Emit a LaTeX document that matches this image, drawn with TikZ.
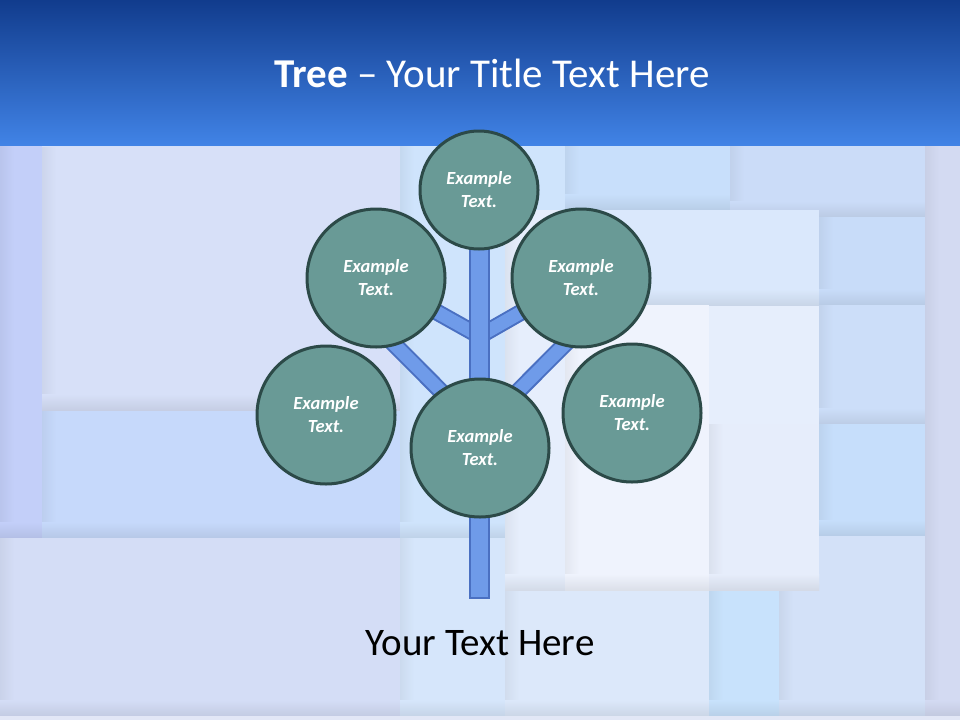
\documentclass[tikz,border=0pt]{standalone}
\usepackage{fontspec}
\setmainfont{Carlito}

\definecolor{headtop}{HTML}{113C8D}
\definecolor{headbot}{HTML}{4183E6}
\definecolor{leaf}{HTML}{699A96}
\definecolor{leafline}{HTML}{2C4A48}
\definecolor{wood}{HTML}{6F9BE9}
\definecolor{woodline}{HTML}{4A70C2}

% background panel: x1, y1, x2, y2, colour (HTML)
\newcommand{\bgpanel}[5]{%
  \definecolor{pc}{HTML}{#5}%
  \fill[pc] (#1,#2) rectangle (#3,#4);
  \shade[left color=pc!95!black, right color=pc] (#1,#2) rectangle (#1+14,#4);
  \shade[top color=pc, bottom color=pc!92!black] (#1,#4-16) rectangle (#3,#4);
}

\begin{document}
\begin{tikzpicture}[
    x = 1pt, y = -1pt, % pixel grid, y downwards
    branch/.style = {draw=woodline, line width=2pt, double=wood, double distance=13pt},
    trunk/.style = {draw=woodline, line width=2pt, fill=wood, minimum width=19pt, inner sep=0pt}
    ]

    \tikzset{leaf/.style={
    circle,
    draw = leafline,
    line width = 3pt,
    fill = leaf,
    text = white,
    align = center,
    inner sep = 0pt,
    font = \fontsize{18.5}{23}\selectfont\bfseries\itshape
    }}

    \useasboundingbox (0,0) rectangle (960,720);

    % background
    \fill[fill={rgb,255:red,211;green,223;blue,248}] (0,0) rectangle (960,720);
    \bgpanel{0}{145}{42}{538}{C3CFF9}
    \bgpanel{42}{405}{400}{538}{C6D9FB}
    \bgpanel{42}{147}{400}{410}{D7E0F8}
    \bgpanel{0}{538}{400}{716}{D4DDF6}
    \bgpanel{400}{145}{565}{538}{CFE4FC}
    \bgpanel{400}{538}{505}{716}{D6E6FB}
    \bgpanel{565}{145}{730}{210}{C8DFFB}
    \bgpanel{730}{145}{925}{217}{CBDCF8}
    \bgpanel{819}{217}{925}{305}{C8DCF9}
    \bgpanel{819}{305}{925}{424}{CCDEF9}
    \bgpanel{819}{424}{925}{536}{C6DEFB}
    \bgpanel{925}{145}{960}{716}{D3DAF2}
    \bgpanel{779}{536}{925}{716}{D3E1F8}
    \bgpanel{709}{590}{779}{716}{C8E2FC}
    \bgpanel{505}{590}{709}{716}{DCE8FA}
    \bgpanel{505}{210}{819}{590}{E6EEFC}
    \bgpanel{565}{210}{819}{305}{DAE8FC}
    \bgpanel{709}{424}{819}{590}{E6EDFB}
    \bgpanel{565}{305}{709}{590}{EFF3FD}
    \fill[fill={rgb,255:red,226;green,231;blue,246}] (0,716) rectangle (960,720);

    % title bar
    \shade[top color=headtop, bottom color=headbot] (0,0) rectangle (960,145);
    \node[text=white, font=\fontsize{41}{49}\selectfont, anchor=base] (title) at (492,87)
        {\textbf{Tree} – Your Title Text Here};

    % branches and trunk
    \coordinate (forkU) at (479.5,336);
    \coordinate (forkL) at (479.5,430);
    \coordinate (tipL) at (380,330);
    \coordinate (tipR) at (579,330);
    \coordinate (ulc) at (376,278);
    \coordinate (urc) at (581,278);

    \draw[branch] (forkU) -- (ulc);
    \draw[branch] (forkU) -- (urc);
    \draw[branch] (forkL) -- (tipL);
    \draw[branch] (forkL) -- (tipR);
    \node[trunk, minimum height=349pt, anchor=south] (trunk) at (479.5,599) {};

    % leaves
    \node[leaf, minimum size=118pt] (top) at (479,190) {Example\\Text.};
    \node[leaf, minimum size=138pt] (ul) at (ulc) {Example\\Text.};
    \node[leaf, minimum size=138pt] (ur) at (urc) {Example\\Text.};
    \node[leaf, minimum size=138pt] (ll) at (326,415) {Example\\Text.};
    \node[leaf, minimum size=138pt] (lr) at (632,413) {Example\\Text.};
    \node[leaf, minimum size=138pt] (mid) at (480,448) {Example\\Text.};

    \node[font=\fontsize{39}{47}\selectfont, anchor=base] (caption) at (480,655) {Your Text Here};
\end{tikzpicture}
\end{document}
